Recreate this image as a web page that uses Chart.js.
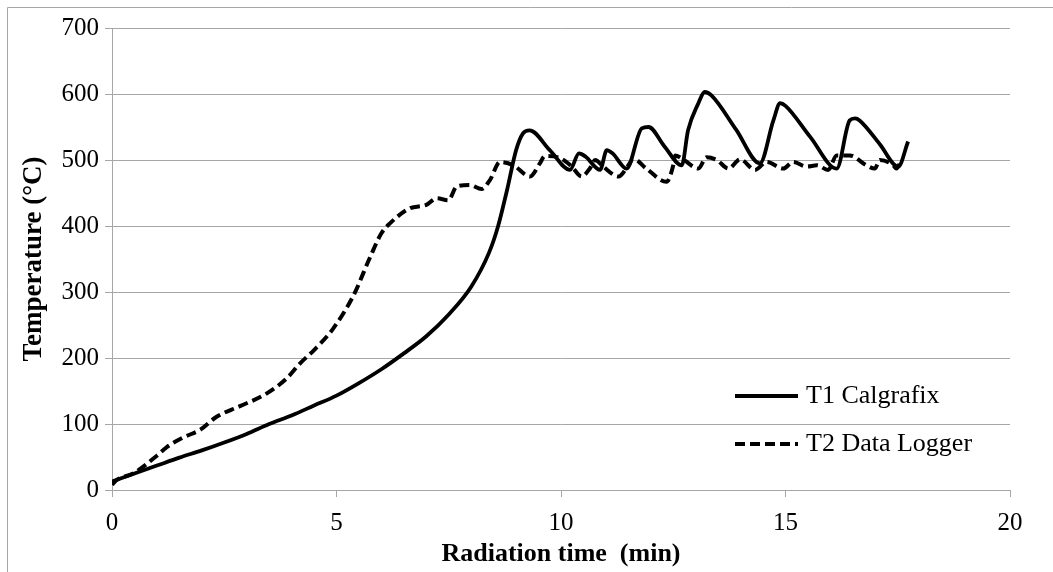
<!DOCTYPE html>
<html>
<head>
<meta charset="utf-8">
<script src="https://cdn.jsdelivr.net/npm/chart.js@4"></script>
<style>
  html, body { margin: 0; padding: 0; background: #fff; }
  #wrap { width: 1053px; height: 572px; position: relative; }
</style>
</head>
<body>
<div id="wrap"><canvas id="tempChart"></canvas></div>
<script>
// T1 Calgrafix (solid)
const t1Time = [0, 0.5, 1, 1.5, 2, 2.5, 3, 3.5, 4, 4.5, 5, 5.5, 6, 6.5, 7, 7.5, 8, 8.4, 8.6, 8.8, 9.0, 9.15, 9.3,
    9.75, 10.2, 10.4, 10.55, 10.87, 11.02, 11.15, 11.46, 11.8, 11.95, 12.3, 12.69, 12.83, 13.06, 13.2, 13.35,
    13.9, 14.43, 14.73, 14.88, 15.0, 15.55, 16.14, 16.43, 16.55, 16.65, 17.1, 17.51, 17.73];
const t1Temp = [13, 25, 37, 49, 60, 72, 85, 100, 113, 128, 143, 162, 183, 207, 233, 266, 308, 360, 400, 455, 515, 540, 545,
    515, 485, 510, 505, 485, 515, 510, 487, 548, 550, 521, 492, 545, 586, 603, 598,
    546, 495, 560, 586, 582, 535, 487, 560, 563, 560, 524, 490, 528];

// T2 Data Logger (dashed)
const t2Time = [0, 0.1, 0.47, 1.0, 1.22, 1.6, 1.96, 2.33, 2.85, 3.44, 3.89, 4.19, 4.5, 4.93, 5.38, 5.75, 6.0, 6.19, 6.64, 7.0,
    7.23, 7.49, 7.68, 7.97, 8.23, 8.42, 8.64, 8.94, 9.31, 9.53, 9.64, 9.98, 10.24, 10.46, 10.65, 10.76, 10.94,
    11.28, 11.5, 11.61, 11.9, 12.35, 12.5, 12.54, 12.72, 13.06, 13.24, 13.47, 13.73, 13.99, 14.32, 14.58, 14.95,
    15.17, 15.47, 15.7, 15.95, 16.14, 16.43, 16.8, 16.99, 17.1, 17.4, 17.47, 17.55];
const t2Temp = [8, 15, 25, 52, 65, 80, 91, 111, 127, 146, 169, 192, 212, 245, 295, 353, 389, 404, 427, 432,
    442, 439, 460, 462, 456, 470, 497, 492, 475, 495, 506, 503, 490, 475, 488, 500, 490,
    475, 492, 502, 487, 467, 492, 507, 501, 487, 504, 500, 487, 501, 485, 497, 487,
    497, 490, 492, 485, 507, 507, 492, 487, 500, 492, 487, 495];

const seriesNames = ['T1 Calgrafix', 'T2 Data Logger'];
const xTitle = 'Radiation time  (min)';
const yTitle = 'Temperature (°C)';

const serif = 'Liberation Serif, Times New Roman, serif';
const gridGray = '#a6a6a6';

function toPoints(xs, ys) {
    return xs.map((x, i) => ({ x: x, y: ys[i] }));
}

// outer frame (top + left edge only)
const framePlugin = {
    id: 'frame',
    beforeDraw(chart) {
        const ctx = chart.ctx;
        ctx.save();
        ctx.strokeStyle = gridGray;
        ctx.lineWidth = 1;
        ctx.beginPath();
        ctx.moveTo(7.5, chart.height);
        ctx.lineTo(7.5, 7.5);
        ctx.lineTo(chart.width, 7.5);
        ctx.stroke();
        ctx.restore();
    }
};

// legend drawn inside the plot
const insideLegend = {
    id: 'insideLegend',
    afterDraw(chart) {
        const ctx = chart.ctx;
        const rows = [396, 444];
        ctx.save();
        chart.data.datasets.forEach((ds, i) => {
            const y = rows[i];
            ctx.strokeStyle = ds.borderColor;
            ctx.lineWidth = ds.borderWidth;
            ctx.setLineDash(ds.borderDash || []);
            ctx.beginPath();
            ctx.moveTo(735, y);
            ctx.lineTo(798, y);
            ctx.stroke();
            ctx.setLineDash([]);
            ctx.fillStyle = '#000';
            ctx.font = '26px ' + serif;
            ctx.textBaseline = 'middle';
            ctx.fillText(ds.label, 806, y);
        });
        ctx.restore();
    }
};

const ctx = document.getElementById('tempChart').getContext('2d');
const tempChart = new Chart(ctx, {
    type: 'line',
    data: {
        datasets: [
            {
                label: seriesNames[0],
                data: toPoints(t1Time, t1Temp),
                borderColor: '#000',
                borderWidth: 3.8,
                pointRadius: 0,
                cubicInterpolationMode: 'monotone',
                fill: false
            },
            {
                label: seriesNames[1],
                data: toPoints(t2Time, t2Temp),
                borderColor: '#000',
                borderWidth: 4,
                borderDash: [10, 5],
                pointRadius: 0,
                cubicInterpolationMode: 'monotone',
                fill: false
            }
        ]
    },
    options: {
        responsive: true,
        maintainAspectRatio: false,
        animation: false,
        layout: { padding: { left: 0, right: 43, top: 28, bottom: 0 } },
        scales: {
            x: {
                type: 'linear',
                min: 0,
                max: 20,
                afterFit: s => { s.height = 82; },
                ticks: { stepSize: 5, color: '#000', padding: 11, font: { family: serif, size: 25 } },
                grid: { drawOnChartArea: false, drawTicks: true, tickLength: 7, color: gridGray },
                border: { color: gridGray },
                title: {
                    display: true, text: xTitle, color: '#000',
                    font: { family: serif, size: 26, weight: 'bold', lineHeight: 1.2 },
                    padding: { top: 0, bottom: 2 }
                }
            },
            y: {
                min: 0,
                max: 700,
                afterFit: s => { s.width = 112; },
                ticks: { stepSize: 100, color: '#000', padding: 6, font: { family: serif, size: 25 } },
                grid: { color: gridGray, tickLength: 7 },
                border: { color: gridGray },
                title: {
                    display: true, text: yTitle, color: '#000',
                    font: { family: serif, size: 27, weight: 'bold', lineHeight: 1.2 },
                    padding: { top: 18, bottom: 0 }
                }
            }
        },
        plugins: {
            legend: { display: false },
            tooltip: { enabled: false }
        }
    },
    plugins: [framePlugin, insideLegend]
});
</script>
</body>
</html>
